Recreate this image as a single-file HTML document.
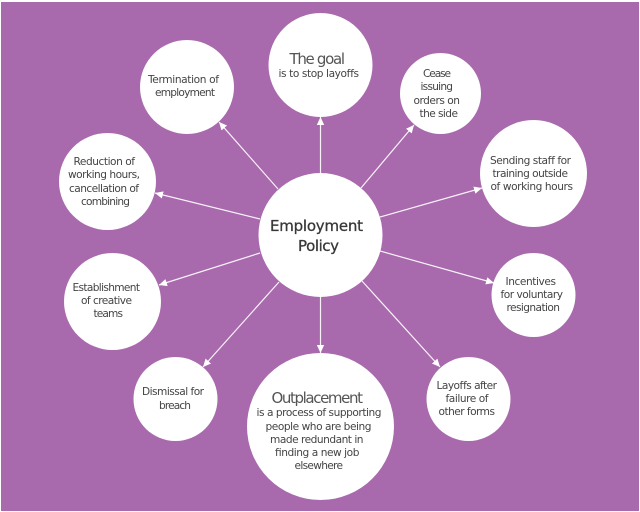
<!DOCTYPE html>
<html><head><meta charset="utf-8"><style>
html,body{margin:0;padding:0;background:#fff}
svg{display:block}
text{font-family:"DejaVu Sans",sans-serif;font-size:10.6px;fill:#444}
.l{font-size:15px;fill:#555}
.c{font-size:15px;fill:#383838;stroke:#383838;stroke-width:.3}
line{stroke:#f8f2f8;stroke-width:1.2}
</style></head><body>
<svg width="640" height="512" viewBox="0 0 640 512" xmlns="http://www.w3.org/2000/svg">
<defs><marker id="a" markerUnits="userSpaceOnUse" markerWidth="10" markerHeight="9" refX="8" refY="4" orient="auto"><path d="M0,0.3 L8,4 L0,7.7 Z" fill="#fff"/></marker></defs>
<rect width="640" height="512" fill="#fff"/>
<rect x="1" y="2" width="638" height="509" fill="#a869ad"/>
<line x1="320.5" y1="174" x2="320.5" y2="117" marker-end="url(#a)"/>
<line x1="278" y1="189" x2="219" y2="122" marker-end="url(#a)"/>
<line x1="260" y1="219" x2="155" y2="193" marker-end="url(#a)"/>
<line x1="260" y1="253" x2="159" y2="285" marker-end="url(#a)"/>
<line x1="279" y1="282" x2="203" y2="367" marker-end="url(#a)"/>
<line x1="320.5" y1="296" x2="320.5" y2="353" marker-end="url(#a)"/>
<line x1="362" y1="281" x2="440" y2="367" marker-end="url(#a)"/>
<line x1="380" y1="251" x2="494" y2="283" marker-end="url(#a)"/>
<line x1="380" y1="217" x2="482" y2="188" marker-end="url(#a)"/>
<line x1="361" y1="188" x2="414" y2="125" marker-end="url(#a)"/>
<g fill="#fff">
<circle cx="187" cy="87" r="47"/>
<circle cx="107.5" cy="181.5" r="48.5"/>
<circle cx="112.5" cy="301.5" r="48.5"/>
<circle cx="175.5" cy="399" r="42"/>
<circle cx="320.5" cy="426.5" r="73.5"/>
<circle cx="468.5" cy="399" r="42"/>
<circle cx="533.5" cy="295" r="42"/>
<circle cx="533.5" cy="173.5" r="53.5"/>
<circle cx="440.5" cy="93.5" r="40.5"/>
<circle cx="320.5" cy="65" r="52"/>
<circle cx="320.5" cy="235" r="62"/>
</g>
<text x="148" y="83" textLength="71">Termination of</text>
<text x="155" y="96" textLength="60">employment</text>
<text x="73.5" y="165" textLength="61.5">Reduction of</text>
<text x="68" y="178" textLength="72">working hours,</text>
<text x="69" y="192" textLength="70">cancellation of</text>
<text x="81" y="205" textLength="49">combining</text>
<text x="72.5" y="291" textLength="67.5">Establishment</text>
<text x="81" y="304" textLength="51">of creative</text>
<text x="93.5" y="317" textLength="29.5">teams</text>
<text x="142" y="395" textLength="62">Dismissal for</text>
<text x="159" y="409" textLength="32">breach</text>
<text class="l" x="271.5" y="403" textLength="91.5">Outplacement</text>
<text x="256.5" y="416" textLength="125">is a process of supporting</text>
<text x="265.5" y="430" textLength="106">people who are being</text>
<text x="270" y="443" textLength="93.5">made redundant in</text>
<text x="274.5" y="456" textLength="84.5">finding a new job</text>
<text x="294.5" y="469" textLength="48.5">elsewhere</text>
<text x="436.5" y="389" textLength="60.5">Layoffs after</text>
<text x="445.5" y="402" textLength="43">failure of</text>
<text x="438.5" y="415" textLength="56.5">other forms</text>
<text x="505.5" y="285" textLength="50.5">Incentives</text>
<text x="500.5" y="298" textLength="62.5">for voluntary</text>
<text x="506.5" y="311" textLength="53.5">resignation</text>
<text x="490" y="164" textLength="81">Sending staff for</text>
<text x="492.5" y="177" textLength="75.5">training outside</text>
<text x="490.5" y="190" textLength="82.5">of working hours</text>
<text x="423" y="77" textLength="28">Cease</text>
<text x="420.5" y="90" textLength="32.5">issuing</text>
<text x="413.5" y="104" textLength="46.5">orders on</text>
<text x="419.5" y="117" textLength="38.5">the side</text>
<text class="l" x="289.5" y="64" textLength="55.5">The goal</text>
<text x="278.5" y="77" textLength="80.5">is to stop layoffs</text>
<text class="c" x="270" y="231" textLength="93">Employment</text>
<text class="c" x="298" y="251" textLength="41">Policy</text>
</svg>
</body></html>
